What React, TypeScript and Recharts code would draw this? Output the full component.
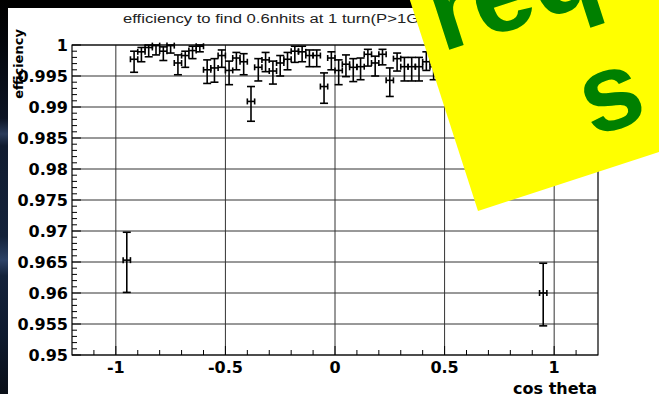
import React from 'react';
import { ComposedChart, Scatter, XAxis, YAxis, CartesianGrid, ErrorBar, ReferenceArea } from 'recharts';

// bin centres in cos theta (60 bins over [-1, 1]); bins 1..58 shown
const cosTheta = [
  -0.95, -0.9167, -0.8833, -0.85, -0.8167, -0.7833, -0.75, -0.7167, -0.6833, -0.65,
  -0.6167, -0.5833, -0.55, -0.5167, -0.4833, -0.45, -0.4167, -0.3833, -0.35, -0.3167,
  -0.2833, -0.25, -0.2167, -0.1833, -0.15, -0.1167, -0.0833, -0.05, -0.0167, 0.0167,
  0.05, 0.0833, 0.1167, 0.15, 0.1833, 0.2167, 0.25, 0.2833, 0.3167, 0.35,
  0.3833, 0.4167, 0.45, 0.4833, 0.5167, 0.55, 0.5833, 0.6167, 0.65, 0.6833,
  0.7167, 0.75, 0.7833, 0.8167, 0.85, 0.8833, 0.9167, 0.95,
];

const efficiency = [
  0.9653, 0.9977, 0.9989, 0.9996, 0.9999, 0.9990, 0.9999, 0.9971, 0.9983, 0.9991,
  0.9998, 0.9960, 0.9963, 0.9983, 0.9959, 0.9979, 0.9973, 0.9909, 0.9964, 0.9976,
  0.9958, 0.9971, 0.9977, 0.9990, 0.9989, 0.9983, 0.9983, 0.9933, 0.9979, 0.9959,
  0.9969, 0.9964, 0.9965, 0.9985, 0.9971, 0.9985, 0.9943, 0.9978, 0.9965, 0.9965,
  0.9965, 0.9973, 0.9965, 0.9968, 0.9975, 0.9962, 0.9971, 0.9978, 0.9966, 0.9973,
  0.9958, 0.9969, 0.9976, 0.9964, 0.9972, 0.9961, 0.9970, 0.9600,
];

const errLow = [
  0.0052, 0.0021, 0.0016, 0.0015, 0.0015, 0.0015, 0.0012, 0.0019, 0.0019, 0.0013,
  0.0009, 0.0022, 0.0023, 0.0019, 0.0023, 0.0019, 0.0021, 0.0032, 0.0022, 0.0019,
  0.0021, 0.0021, 0.0017, 0.0018, 0.0016, 0.0018, 0.0018, 0.0027, 0.0019, 0.0023,
  0.0020, 0.0023, 0.0021, 0.0019, 0.0021, 0.0017, 0.0026, 0.0020, 0.0023, 0.0023,
  0.0023, 0.0014, 0.0021, 0.0020, 0.0019, 0.0021, 0.0020, 0.0018, 0.0021, 0.0020,
  0.0022, 0.0020, 0.0019, 0.0021, 0.0020, 0.0022, 0.0020, 0.0053,
];

const errHigh = [
  0.0045, 0.0013, 0.0007, 0.0004, 0.0001, 0.0007, 0.0001, 0.0013, 0.0007, 0.0007,
  0.0002, 0.0016, 0.0015, 0.0009, 0.0015, 0.0009, 0.0013, 0.0024, 0.0014, 0.0012,
  0.0016, 0.0012, 0.0011, 0.0008, 0.0009, 0.0009, 0.0009, 0.0022, 0.0010, 0.0017,
  0.0015, 0.0014, 0.0014, 0.0008, 0.0011, 0.0008, 0.0020, 0.0009, 0.0015, 0.0015,
  0.0015, 0.0016, 0.0016, 0.0014, 0.0012, 0.0015, 0.0013, 0.0011, 0.0014, 0.0012,
  0.0016, 0.0014, 0.0012, 0.0015, 0.0013, 0.0016, 0.0014, 0.0048,
];

const binHalfWidth = 1 / 60;

const xMajorTicks = [-1, -0.5, 0, 0.5, 1];
const xTickLabels = ['-1', '-0.5', '0', '0.5', '1'];
const yMajorTicks = [0.95, 0.955, 0.96, 0.965, 0.97, 0.975, 0.98, 0.985, 0.99, 0.995, 1];
const yTickLabels = ['0.95', '0.955', '0.96', '0.965', '0.97', '0.975', '0.98', '0.985', '0.99', '0.995', '1'];

const title = 'efficiency to find 0.6nhits at 1 turn(P>1GeV)';
const xTitle = 'cos theta';
const yTitle = 'efficiency';

// minor tick positions (axis decoration)
const xTicks: number[] = [];
for (let i = -11; i <= 11; i++) xTicks.push(Math.round(i * 10) / 100);
const yTicks: number[] = [];
for (let i = 950; i <= 1000; i++) yTicks.push(i / 1000);

const data = cosTheta.map((x, i) => ({
  x,
  y: efficiency[i],
  ex: binHalfWidth,
  ey: [errLow[i], errHigh[i]],
}));

const findIndex = (arr: number[], v: number) => arr.findIndex((a) => Math.abs(a - v) < 1e-9);

const FONT = '"DejaVu Sans", sans-serif';
const NOTE_FONT = '"Liberation Sans", Arial, sans-serif';

const XTick = (props: any) => {
  const { x, y, payload } = props;
  const idx = findIndex(xMajorTicks, payload.value);
  const major = idx >= 0;
  return (
    <g>
      <line x1={x} x2={x} y1={y} y2={y - (major ? 9 : 5)} stroke="#000" strokeWidth={1} />
      {major && (
        <text x={x} y={y + 18} textAnchor="middle" fontFamily={FONT} fontWeight="bold" fontSize={16} fill="#000">
          {xTickLabels[idx]}
        </text>
      )}
    </g>
  );
};

const YTick = (props: any) => {
  const { x, y, payload } = props;
  const idx = findIndex(yMajorTicks, payload.value);
  const major = idx >= 0;
  return (
    <g>
      <line x1={x} x2={x + (major ? 9 : 5)} y1={y} y2={y} stroke="#000" strokeWidth={1} />
      {major && (
        <text x={x - 4} y={y + 6} textAnchor="end" fontFamily={FONT} fontWeight="bold" fontSize={16} fill="#000">
          {yTickLabels[idx]}
        </text>
      )}
    </g>
  );
};

const NoMarker = () => <g />;

export default function App() {
  return (
    <div style={{ position: 'absolute', left: 0, top: 0, width: 659, height: 394, overflow: 'hidden', background: '#fff' }}>
      <svg width={659} height={394} style={{ position: 'absolute', left: 0, top: 0 }}>
        <defs>
          <linearGradient id="strip" x1="0" y1="0" x2="0" y2="1">
            <stop offset="0" stopColor="#000000" />
            <stop offset="0.1" stopColor="#03050a" />
            <stop offset="0.3" stopColor="#0c1424" />
            <stop offset="0.34" stopColor="#2a3b5a" />
            <stop offset="0.37" stopColor="#111c30" />
            <stop offset="0.6" stopColor="#14223a" />
            <stop offset="0.66" stopColor="#2c4266" />
            <stop offset="0.7" stopColor="#14223a" />
            <stop offset="0.85" stopColor="#0e1a2e" />
            <stop offset="1" stopColor="#0a0f18" />
          </linearGradient>
        </defs>
        <rect x={0} y={0} width={659} height={8} fill="#000" />
        <rect x={0} y={0} width={8} height={394} fill="url(#strip)" />
        <text x={123} y={23} fontFamily={NOTE_FONT} fontSize={12.5} fill="#222"
          textLength={322} lengthAdjust="spacingAndGlyphs">{title}</text>
        <text x={597} y={393.5} textAnchor="end" fontFamily={FONT} fontWeight="bold" fontSize={16} fill="#000">{xTitle}</text>
      </svg>
      <div style={{ position: 'absolute', left: 0, top: 0 }}>
        <ComposedChart width={659} height={394} data={data} margin={{ top: 45, right: 61, bottom: 9, left: 0 }}>
          <CartesianGrid verticalValues={xMajorTicks} horizontalValues={yMajorTicks} stroke="#333" strokeWidth={1} />
          <XAxis type="number" dataKey="x" domain={[-1.2, 1.2]} ticks={xTicks} interval={0} height={30}
            tickSize={0} tickMargin={0} axisLine={false} tickLine={false} tick={<XTick />} allowDataOverflow />
          <YAxis type="number" dataKey="y" domain={[0.95, 1]} ticks={yTicks} interval={0} width={72}
            tickSize={0} tickMargin={0} axisLine={false} tickLine={false} tick={<YTick />} allowDataOverflow />
          <ReferenceArea x1={-1.2} x2={1.2} y1={0.95} y2={1} fill="none" fillOpacity={0} stroke="#000" strokeWidth={1.2} />
          <Scatter data={data} dataKey="y" isAnimationActive={false} shape={NoMarker}>
            <ErrorBar dataKey="ey" direction="y" stroke="#000" strokeWidth={1.6} width={4} isAnimationActive={false} />
            <ErrorBar dataKey="ex" direction="x" stroke="#000" strokeWidth={1.6} width={3} isAnimationActive={false} />
          </Scatter>
        </ComposedChart>
      </div>
      <svg width={659} height={394} style={{ position: 'absolute', left: 0, top: 0 }}>
        <text x={23} y={64} transform="rotate(-90 23 64)" textAnchor="middle" fontFamily={FONT} fontWeight="bold" fontSize={13} fill="#000">{yTitle}</text>
        <polygon points="478,211 858,87 735,-294 355,-170" fill="#ffff00" />
        <text x={442} y={52} transform="rotate(-18 442 52)" fontFamily={NOTE_FONT} fontWeight="bold" fontSize={110} fill="#008000">req</text>
        <text x={592} y={137} transform="rotate(-18 592 137)" fontFamily={NOTE_FONT} fontWeight="bold" fontSize={110} fill="#008000">s</text>
      </svg>
    </div>
  );
}
